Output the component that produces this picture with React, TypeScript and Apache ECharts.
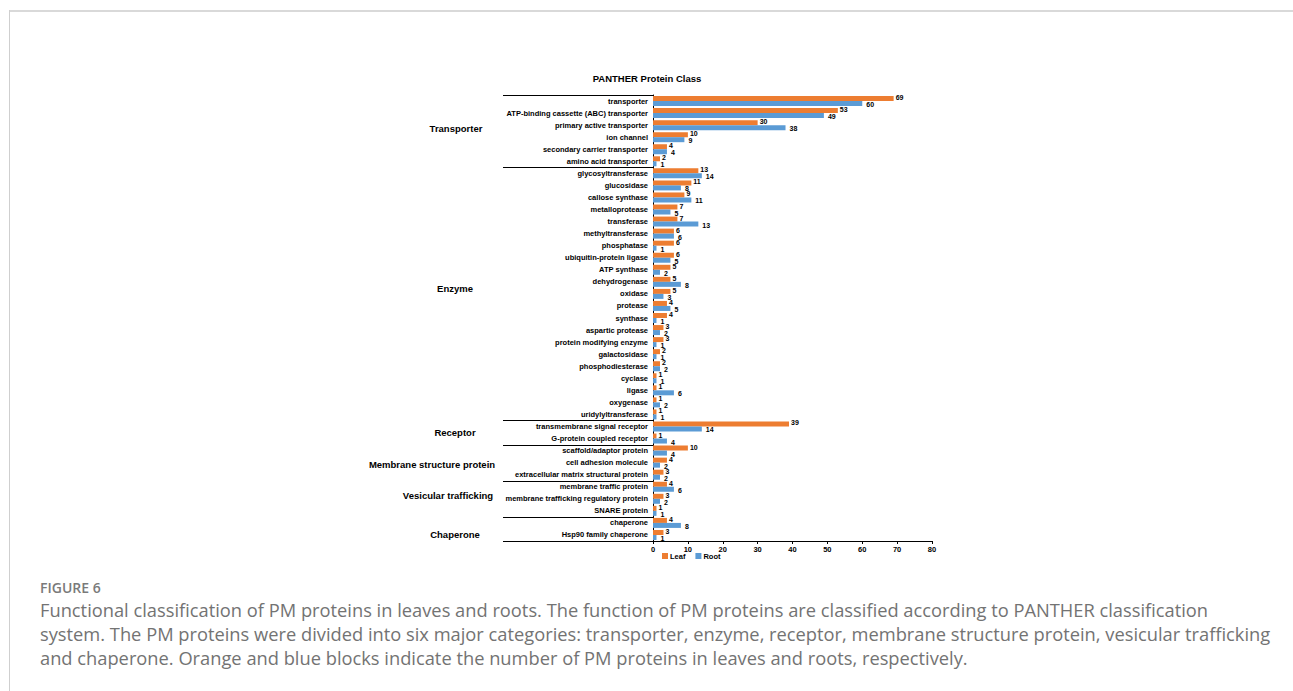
import React, { useEffect, useRef } from "react";
import * as echarts from "echarts";

const categories = [
  "transporter", "ATP-binding cassette (ABC) transporter", "primary active transporter", "ion channel",
  "secondary carrier transporter", "amino acid transporter",
  "glycosyltransferase", "glucosidase", "callose synthase", "metalloprotease", "transferase",
  "methyltransferase", "phosphatase", "ubiquitin-protein ligase", "ATP synthase", "dehydrogenase",
  "oxidase", "protease", "synthase", "aspartic protease", "protein modifying enzyme", "galactosidase",
  "phosphodiesterase", "cyclase", "ligase", "oxygenase", "uridylyltransferase",
  "transmembrane signal receptor", "G-protein coupled receptor",
  "scaffold/adaptor protein", "cell adhesion molecule", "extracellular matrix structural protein",
  "membrane traffic protein", "membrane trafficking regulatory protein", "SNARE protein",
  "chaperone", "Hsp90 family chaperone",
];

const leafValues = [
  69, 53, 30, 10, 4, 2,
  13, 11, 9, 7, 7, 6, 6, 6, 5, 5, 5, 4, 4, 3, 3, 2, 2, 1, 1, 1, 1,
  39, 1,
  10, 4, 3,
  4, 3, 1,
  4, 3,
];

const rootValues = [
  60, 49, 38, 9, 4, 1,
  14, 8, 11, 5, 13, 6, 1, 5, 2, 8, 3, 5, 1, 2, 1, 1, 2, 1, 6, 2, 1,
  14, 4,
  4, 2, 2,
  6, 2, 1,
  8, 1,
];

const groupNames = ["Transporter", "Enzyme", "Receptor", "Membrane structure protein", "Vesicular trafficking", "Chaperone"];
const groupSizes = [6, 21, 2, 3, 3, 2];

const xTicks = { min: 0, max: 80, interval: 10 };

const titleText = "PANTHER Protein Class";
const figureLabel = "FIGURE 6";
const captionLines = [
  "Functional classification of PM proteins in leaves and roots. The function of PM proteins are classified according to PANTHER classification",
  "system. The PM proteins were divided into six major categories: transporter, enzyme, receptor, membrane structure protein, vesicular trafficking",
  "and chaperone. Orange and blue blocks indicate the number of PM proteins in leaves and roots, respectively.",
];

// style-only tweaks for group label placement
const groupLabelX = [456, 455, 455, 432, 448, 455];
const groupLabelDy = [-3, -5, 0, 2, -3, 6];

const FONT = "'Liberation Sans', Arial, sans-serif";
const CAPTION_FONT = "'Open Sans', Lato, sans-serif";
const ORANGE = "#ED7D31";
const BLUE = "#5B9BD5";

export default function App() {
  const ref = useRef<HTMLDivElement>(null);
  useEffect(() => {
    if (!ref.current) return;
    const chart = echarts.init(ref.current, undefined, { renderer: "svg" });
    const labelStyle = { show: true, position: "right" as const, distance: 2, fontSize: 7, fontWeight: "bold" as const, color: "#000", fontFamily: FONT };
    chart.setOption({
      animation: false,
      backgroundColor: "#fff",
      title: {
        text: titleText,
        left: 642,
        top: 68,
        textAlign: "center",
        textStyle: { fontSize: 9.5, fontWeight: "bold", color: "#000", fontFamily: FONT },
      },
      legend: {
        data: ["Leaf", "Root"],
        left: 657,
        top: 547,
        itemWidth: 6,
        itemHeight: 6,
        itemGap: 10,
        icon: "rect",
        textStyle: { fontSize: 7.5, fontWeight: "bold", color: "#000", fontFamily: FONT, padding: [0, 0, 0, -3] },
      },
      grid: { left: 653, right: 361, top: 95, bottom: 150, containLabel: false },
      xAxis: {
        type: "value",
        min: xTicks.min,
        max: xTicks.max,
        interval: xTicks.interval,
        axisLine: { show: true, lineStyle: { color: "#000", width: 1 } },
        axisTick: { show: true, length: 3, lineStyle: { color: "#000" } },
        splitLine: { show: false },
        axisLabel: { fontSize: 7.5, fontWeight: "bold", color: "#000", fontFamily: FONT, margin: 4 },
      },
      yAxis: {
        type: "category",
        inverse: true,
        data: categories,
        axisLine: { show: true, lineStyle: { color: "#000", width: 1 } },
        axisTick: { show: false },
        axisLabel: { fontSize: 7.5, fontWeight: "bold", color: "#000", fontFamily: FONT, margin: 5, interval: 0 },
      },
      series: [
        {
          name: "Leaf", type: "bar", data: leafValues, barWidth: 5, barGap: "0%",
          itemStyle: { color: ORANGE },
          label: { ...labelStyle, offset: [0, -1] },
        },
        {
          name: "Root", type: "bar", data: rootValues, barWidth: 5, barGap: "0%",
          itemStyle: { color: BLUE },
          label: { ...labelStyle, offset: [2, 1] },
        },
      ],
    });

    const yPix = (i: number) => chart.convertToPixel({ yAxisIndex: 0 }, i) as number;
    const band = yPix(1) - yPix(0);
    const xLeft = 503;
    const xAxisStart = chart.convertToPixel({ xAxisIndex: 0 }, 0) as number;
    const graphics: any[] = [];
    let start = 0;
    const boundaries: number[] = [yPix(0) - band / 2];
    groupSizes.forEach((n, gi) => {
      const top = yPix(start) - band / 2;
      const bottom = yPix(start + n - 1) + band / 2;
      boundaries.push(bottom);
      graphics.push({
        type: "text",
        x: groupLabelX[gi],
        y: (top + bottom) / 2 + groupLabelDy[gi],
        style: { text: groupNames[gi], fill: "#000", fontSize: 9.5, fontWeight: "bold", fontFamily: FONT, textAlign: "center", textVerticalAlign: "middle" },
      });
      start += n;
    });
    boundaries.forEach((b) => {
      const yy = Math.round(b) + 0.5;
      graphics.push({
        type: "line",
        shape: { x1: xLeft, y1: yy, x2: xAxisStart, y2: yy },
        style: { stroke: "#000", lineWidth: 1 },
      });
    });
    // page frame
    graphics.push({ type: "line", shape: { x1: 9, y1: 11, x2: 1293, y2: 11 }, style: { stroke: "#d9d9d9", lineWidth: 2 } });
    graphics.push({ type: "line", shape: { x1: 9.5, y1: 10, x2: 9.5, y2: 691 }, style: { stroke: "#cfcfcf", lineWidth: 1 } });
    // caption
    graphics.push({
      type: "text", x: 40, y: 587,
      style: { text: figureLabel, fill: "#7a7a7a", fontSize: 14, fontWeight: 600, fontFamily: CAPTION_FONT, textVerticalAlign: "middle" },
    });
    captionLines.forEach((line, i) => {
      graphics.push({
        type: "text", x: 40, y: 609 + i * 24,
        style: { text: line, fill: "#737373", fontSize: 18.3, fontFamily: CAPTION_FONT, textVerticalAlign: "middle" },
      });
    });
    chart.setOption({ graphic: graphics });

    return () => chart.dispose();
  }, []);
  return (
    <div
      ref={ref}
      style={{ position: "fixed", left: 0, top: 0, width: 1293, height: 691, background: "#fff" }}
    />
  );
}
